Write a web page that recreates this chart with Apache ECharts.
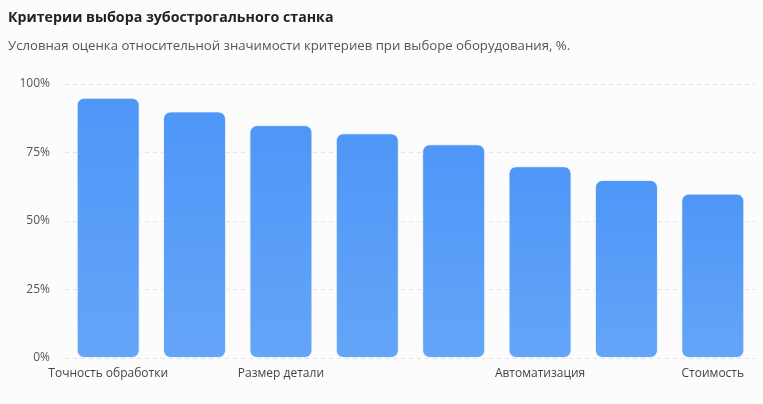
<!DOCTYPE html>
<html>
<head>
<meta charset="utf-8">
<script src="https://cdn.jsdelivr.net/npm/echarts@6/dist/echarts.min.js"></script>
<style>
  html, body { margin: 0; padding: 0; background: #fcfcfc; }
  #chart { width: 763px; height: 404px; }
</style>
</head>
<body>
<div id="chart"></div>
<script>
// категории и значения (оценка, %)
var categories = ['Точность обработки', 'Производительность', 'Размер детали', 'Жёсткость конструкции',
  'Модуль зацепления', 'Автоматизация', 'Сервисное обслуживание', 'Стоимость']
var values = [95, 90, 85, 82, 78, 70, 65, 60]
var yTicks = [0, 25, 50, 75, 100]
// подписи, которые видны на оси
var shownLabels = [0, 2, 5, 7]

var chart = echarts.init(document.getElementById('chart'))
var option = {
  backgroundColor: '#fcfcfc',
  textStyle: { fontFamily: '"Open Sans", "Noto Sans", sans-serif' },
  title: {
    text: 'Критерии выбора зубострогального станка',
    subtext: 'Условная оценка относительной значимости критериев при выборе оборудования, %.',
    left: 3,
    top: 6,
    itemGap: 15,
    textStyle: { fontSize: 14.2, fontWeight: 'bold', color: '#222' },
    subtextStyle: { fontSize: 13.2, color: '#555' }
  },
  grid: { left: 65, right: 7, top: 84, bottom: 46 },
  xAxis: {
    type: 'category',
    data: categories,
    axisLine: { show: false },
    axisTick: { show: false },
    axisLabel: {
      color: '#444',
      fontSize: 12,
      margin: 10,
      interval: function (index) {
        return shownLabels.indexOf(index) !== -1
      }
    }
  },
  yAxis: {
    type: 'value',
    min: yTicks[0],
    max: yTicks[yTicks.length - 1],
    interval: 25,
    axisLine: { show: false },
    axisTick: { show: false },
    axisLabel: {
      color: '#555',
      fontSize: 12,
      margin: 15,
      formatter: '{value}%'
    },
    splitLine: { lineStyle: { color: '#e3e3e3', type: [4, 4] } }
  },
  series: [{
    type: 'bar',
    data: values,
    barCategoryGap: '27%',
    itemStyle: {
      borderRadius: 7,
      borderColor: 'rgba(255,255,255,0.5)',
      borderWidth: 1,
      color: new echarts.graphic.LinearGradient(0, 0, 0, 1, [
        { offset: 0, color: '#4e96f7' },
        { offset: 1, color: '#64a5f8' }
      ])
    }
  }]
}
chart.setOption(option)
</script>
</body>
</html>
